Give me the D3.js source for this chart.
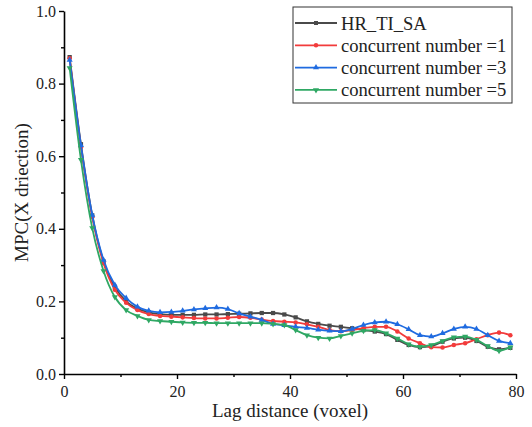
<!DOCTYPE html>
<html>
<head>
<meta charset="utf-8">
<script src="https://cdn.jsdelivr.net/npm/d3@7"></script>
<style>
  body { margin: 0; background: #fff; }
  svg { display: block; font-family: "Liberation Serif", "Times New Roman", serif; }
</style>
</head>
<body>
<svg id="chart" width="532" height="427"></svg>
<script>
// lag distances (voxel)
const lags = d3.range(1, 80, 2);

const hrTiSa = [0.873, 0.633, 0.437, 0.31, 0.24, 0.2, 0.18, 0.17, 0.165, 0.163,
  0.163, 0.163, 0.164, 0.164, 0.165, 0.166, 0.167, 0.168, 0.168, 0.164,
  0.156, 0.145, 0.138, 0.133, 0.13, 0.126, 0.121, 0.117, 0.11, 0.094,
  0.08, 0.074, 0.077, 0.089, 0.098, 0.1, 0.091, 0.075, 0.068, 0.072];

const concurrent1 = [0.87, 0.625, 0.432, 0.305, 0.232, 0.196, 0.176, 0.165, 0.16, 0.158,
  0.156, 0.154, 0.153, 0.153, 0.155, 0.157, 0.155, 0.15, 0.146, 0.144,
  0.142, 0.137, 0.13, 0.121, 0.118, 0.121, 0.126, 0.13, 0.13, 0.117,
  0.098, 0.085, 0.074, 0.073, 0.08, 0.085, 0.096, 0.107, 0.114, 0.107];

const concurrent3 = [0.865, 0.63, 0.438, 0.314, 0.245, 0.209, 0.185, 0.174, 0.17, 0.171,
  0.174, 0.178, 0.181, 0.183, 0.179, 0.167, 0.158, 0.149, 0.138, 0.134,
  0.13, 0.127, 0.122, 0.119, 0.118, 0.124, 0.135, 0.142, 0.144, 0.137,
  0.123, 0.107, 0.103, 0.112, 0.124, 0.13, 0.124, 0.107, 0.091, 0.085];

const concurrent5 = [0.843, 0.59, 0.402, 0.284, 0.212, 0.176, 0.16, 0.149, 0.146, 0.144,
  0.142, 0.141, 0.141, 0.14, 0.14, 0.14, 0.14, 0.14, 0.138, 0.135,
  0.121, 0.107, 0.1, 0.098, 0.105, 0.112, 0.119, 0.121, 0.112, 0.098,
  0.082, 0.075, 0.08, 0.091, 0.101, 0.103, 0.094, 0.077, 0.064, 0.074];

const seriesNames = ["HR_TI_SA", "concurrent number =1", "concurrent number =3", "concurrent number =5"];
const seriesValues = [hrTiSa, concurrent1, concurrent3, concurrent5];
const seriesColors = ["#4a4a4a", "#f23b3b", "#1f6be0", "#2fa864"];
const seriesSymbols = [d3.symbolSquare, d3.symbolCircle, d3.symbolTriangle, d3.symbolTriangle];

const xTicks = [0, 20, 40, 60, 80];
const yTicks = [0, 0.2, 0.4, 0.6, 0.8, 1.0];

const svg = d3.select("#chart");
const margin = { left: 64, right: 16, top: 11, bottom: 53 };
const W = 532, H = 427;

const x = d3.scaleLinear().domain([0, 80]).range([margin.left, W - margin.right]);
const y = d3.scaleLinear().domain([0, 1]).range([H - margin.bottom, margin.top]);

// axes
const xAxis = svg.append("g")
    .attr("transform", `translate(0,${y(0)})`)
    .call(d3.axisBottom(x).tickValues(xTicks).tickFormat(d3.format("d")).tickSize(5).tickSizeOuter(0));
svg.append("g")
    .attr("transform", `translate(0,${y(0)})`)
    .call(d3.axisBottom(x).tickValues([10, 30, 50, 70]).tickFormat("").tickSize(3))
    .select(".domain").remove();

const yAxis = svg.append("g")
    .attr("transform", `translate(${x(0)},0)`)
    .call(d3.axisLeft(y).tickValues(yTicks).tickFormat(d3.format(".1f")).tickSize(5).tickSizeOuter(0));
svg.append("g")
    .attr("transform", `translate(${x(0)},0)`)
    .call(d3.axisLeft(y).tickValues([0.1, 0.3, 0.5, 0.7, 0.9]).tickFormat("").tickSize(3))
    .select(".domain").remove();

svg.selectAll(".domain").attr("stroke", "#000").attr("stroke-width", 1.6);
svg.selectAll(".tick line").attr("stroke", "#000").attr("stroke-width", 1.4);
svg.selectAll(".tick text")
    .attr("font-family", "Liberation Serif, serif")
    .attr("font-size", 16)
    .attr("fill", "#222");
xAxis.selectAll(".tick text").attr("dy", "0.95em");

// axis titles
svg.append("text")
    .attr("x", (x(0) + x(80)) / 2)
    .attr("y", 417)
    .attr("text-anchor", "middle")
    .attr("font-size", 19)
    .attr("fill", "#222")
    .text("Lag distance (voxel)");

svg.append("text")
    .attr("transform", `translate(28,${(y(0) + y(1)) / 2}) rotate(-90)`)
    .attr("text-anchor", "middle")
    .attr("font-size", 19)
    .attr("fill", "#222")
    .text("MPC(X driection)");

// series
const line = d3.line()
    .x((d, i) => x(lags[i]))
    .y(d => y(d))
    .curve(d3.curveMonotoneX);

seriesValues.forEach((vals, s) => {
    const g = svg.append("g");
    g.append("path")
        .datum(vals)
        .attr("d", line)
        .attr("fill", "none")
        .attr("stroke", seriesColors[s])
        .attr("stroke-width", 1.8);
    g.selectAll("path.mk")
        .data(vals)
        .enter().append("path")
        .attr("class", "mk")
        .attr("d", d3.symbol().type(seriesSymbols[s]).size(s === 0 ? 18 : 16))
        .attr("transform", (d, i) => `translate(${x(lags[i])},${y(d)})${s === 3 ? " rotate(180)" : ""}`)
        .attr("fill", seriesColors[s]);
});

// legend
const legend = svg.append("g").attr("transform", "translate(293,7)");
legend.append("rect")
    .attr("width", 219)
    .attr("height", 96)
    .attr("fill", "#fff")
    .attr("stroke", "#333")
    .attr("stroke-width", 1);

seriesNames.forEach((name, s) => {
    const row = legend.append("g").attr("transform", `translate(0,${16 + s * 22.3})`);
    row.append("line")
        .attr("x1", 2).attr("x2", 44)
        .attr("stroke", seriesColors[s])
        .attr("stroke-width", 1.8);
    row.append("path")
        .attr("d", d3.symbol().type(seriesSymbols[s]).size(16))
        .attr("transform", `translate(23,0)${s === 3 ? " rotate(180)" : ""}`)
        .attr("fill", seriesColors[s]);
    row.append("text")
        .attr("x", 48)
        .attr("dy", "0.35em")
        .attr("font-size", 18.6)
        .attr("fill", "#222")
        .text(name);
});
</script>
</body>
</html>
